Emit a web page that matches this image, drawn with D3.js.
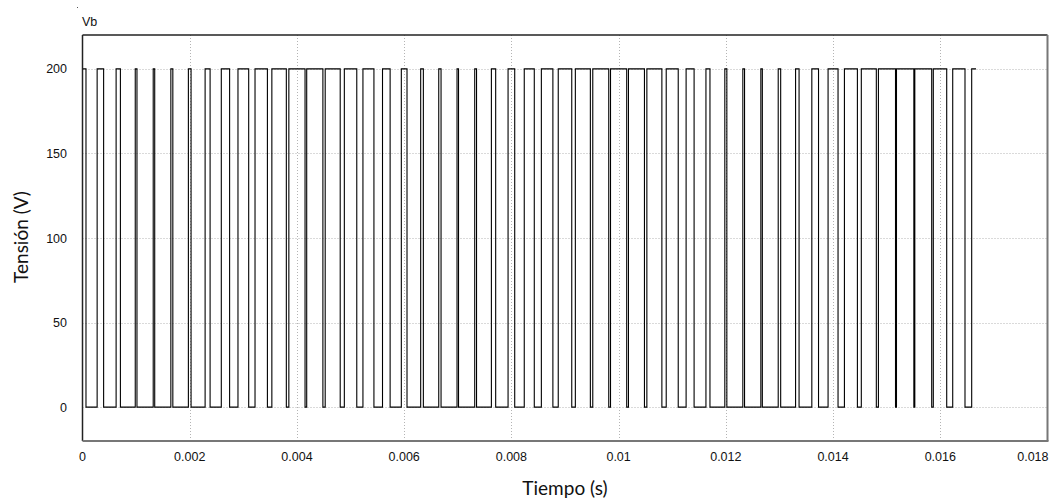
<!DOCTYPE html>
<html>
<head>
<meta charset="utf-8">
<script src="https://cdn.jsdelivr.net/npm/d3@7"></script>
<style>
  html, body { margin: 0; padding: 0; background: #fff; }
  svg { display: block; }
</style>
</head>
<body>
<svg id="chart" width="1051" height="504"></svg>
<script>
// Pulse edges of Vb (microseconds)
const riseTimes = [0, 273, 627, 984, 1319, 1648, 1975, 2287, 2589, 2900,
  3218, 3532, 3849, 4182, 4527, 4884, 5231, 5596, 5947, 6308,
  6645, 6986, 7316, 7627, 7938, 8240, 8559, 8874, 9193, 9518,
  9849, 10184, 10527, 10888, 11259, 11629, 11981, 12317, 12653, 12977,
  13301, 13604, 13907, 14212, 14527, 14846, 15183, 15525, 15870, 16232,
  16586]
const fallTimes = [65, 394, 707, 1016, 1347, 1685, 2025, 2380, 2744, 3100,
  3449, 3802, 4151, 4484, 4807, 5116, 5436, 5738, 6053, 6358,
  6688, 7014, 7350, 7707, 8062, 8427, 8774, 9126, 9473, 9816,
  10151, 10482, 10807, 11112, 11408, 11704, 12019, 12349, 12681, 13023,
  13366, 13729, 14093, 14454, 14807, 15165, 15507, 15840, 16120, 16461,
  16667]
const highLevel = 200
const lowLevel = 0
const endTime = 16667

const xTicks = [0, 0.002, 0.004, 0.006, 0.008, 0.01, 0.012, 0.014, 0.016, 0.018]
const yTicks = [0, 50, 100, 150, 200]

const svg = d3.select("#chart")
const plotLeft = 82.5, plotRight = 1047.5, plotTop = 35, plotBottom = 441
const tickFont = "Liberation Sans, Arial, sans-serif"

const x = d3.scaleLinear().domain([0, 0.018]).range([plotLeft, plotRight])
const y = d3.scaleLinear().domain([-20, 220]).range([plotBottom, plotTop])

// Grid
const grid = svg.append("g")
  .attr("stroke", "#b4b4b4")
  .attr("stroke-width", 1)
  .attr("stroke-dasharray", "1,2")
grid.selectAll("line.v")
  .data(xTicks.filter(d => d > 0 && d < 0.018))
  .join("line")
  .attr("class", "v")
  .attr("x1", d => Math.round(x(d)) + 0.5).attr("x2", d => Math.round(x(d)) + 0.5)
  .attr("y1", plotTop).attr("y2", plotBottom)
grid.selectAll("line.h")
  .data(yTicks)
  .join("line")
  .attr("class", "h")
  .attr("x1", plotLeft).attr("x2", plotRight)
  .attr("y1", d => Math.round(y(d)) + 0.5).attr("y2", d => Math.round(y(d)) + 0.5)

// Build the step waveform from the edges
const pts = []
riseTimes.forEach((r, i) => {
  const t0 = r * 1e-6, t1 = fallTimes[i] * 1e-6
  if (i === 0) pts.push([t0, highLevel])
  else { pts.push([t0, lowLevel]); pts.push([t0, highLevel]) }
  pts.push([t1, highLevel])
  if (fallTimes[i] < endTime) pts.push([t1, lowLevel])
})

const line = d3.line().x(d => x(d[0])).y(d => y(d[1]))
svg.append("path")
  .datum(pts)
  .attr("fill", "none")
  .attr("stroke", "#000")
  .attr("stroke-width", 1.1)
  .attr("d", line)

// Frame (sunken look: dark top/left, gray bottom/right)
svg.append("line").attr("x1", plotLeft).attr("x2", plotRight).attr("y1", plotTop).attr("y2", plotTop)
  .attr("stroke", "#222").attr("stroke-width", 1.5)
svg.append("line").attr("x1", plotLeft).attr("x2", plotLeft).attr("y1", plotTop).attr("y2", plotBottom)
  .attr("stroke", "#222").attr("stroke-width", 1.5)
svg.append("line").attr("x1", plotLeft).attr("x2", plotRight + 1).attr("y1", plotBottom).attr("y2", plotBottom)
  .attr("stroke", "#777").attr("stroke-width", 2)
svg.append("line").attr("x1", plotRight).attr("x2", plotRight).attr("y1", plotTop).attr("y2", plotBottom)
  .attr("stroke", "#777").attr("stroke-width", 2)

// Tick labels (last one kept inside the window)
const fmtX = d => d === 0 ? "0" : d3.format("~g")(d)
svg.append("g")
  .selectAll("text")
  .data(xTicks)
  .join("text")
  .attr("x", (d, i) => i === xTicks.length - 1 ? plotRight + 1 : x(d))
  .attr("y", 461)
  .attr("text-anchor", (d, i) => i === xTicks.length - 1 ? "end" : "middle")
  .attr("font-family", tickFont)
  .attr("font-size", 12.5)
  .attr("fill", "#111")
  .text(fmtX)

svg.append("g")
  .selectAll("text")
  .data(yTicks)
  .join("text")
  .attr("x", 67)
  .attr("y", d => y(d) + 4.5)
  .attr("text-anchor", "end")
  .attr("font-family", tickFont)
  .attr("font-size", 12.5)
  .attr("fill", "#111")
  .text(d => d)

// Series name
svg.append("text")
  .attr("x", 82).attr("y", 26)
  .attr("font-family", tickFont)
  .attr("font-size", 12.5)
  .attr("fill", "#111")
  .text("Vb")
svg.append("rect").attr("x", 77).attr("y", 7).attr("width", 1).attr("height", 1).attr("fill", "#555")

// Axis titles
svg.append("text")
  .attr("x", 565).attr("y", 495)
  .attr("text-anchor", "middle")
  .attr("font-family", "Lato, Open Sans, sans-serif")
  .attr("font-size", 19)
  .attr("fill", "#111")
  .text("Tiempo (s)")

svg.append("text")
  .attr("transform", "translate(28,237) rotate(-90)")
  .attr("text-anchor", "middle")
  .attr("font-family", "Lato, Open Sans, sans-serif")
  .attr("font-size", 19)
  .attr("fill", "#111")
  .text("Tensión (V)")
</script>
</body>
</html>
